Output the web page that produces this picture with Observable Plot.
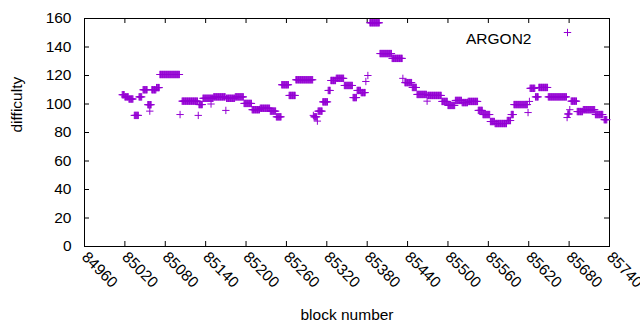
<!DOCTYPE html>
<html>
<head>
<meta charset="utf-8">
<script src="https://cdn.jsdelivr.net/npm/d3@7"></script>
<script src="https://cdn.jsdelivr.net/npm/@observablehq/plot@0.6"></script>
<style>
  html, body { margin: 0; padding: 0; background: #fff; }
  #chart svg { display: block; }
</style>
</head>
<body>
<div id="chart"></div>
<script>
// Runs of blocks sharing the same difficulty (start block, end block, difficulty)
const runStart = [85016, 85020, 85026, 85034, 85041, 85047, 85054, 85057, 85060, 85067, 85072, 85102, 85105, 85129, 85130, 85136, 85148, 85152, 85170, 85171, 85184, 85197, 85209, 85221, 85236, 85245, 85253, 85264, 85274, 85300, 85301, 85306, 85307, 85314, 85322, 85326, 85334, 85346, 85359, 85365, 85371, 85378, 85381, 85384, 85399, 85417, 85433, 85436, 85447, 85454, 85469, 85470, 85491, 85500, 85511, 85521, 85530, 85545, 85546, 85552, 85563, 85570, 85588, 85594, 85598, 85619, 85621, 85622, 85630, 85635, 85649, 85677, 85678, 85681, 85683, 85692, 85701, 85719, 85732];
const runEnd   = [85019, 85025, 85032, 85040, 85045, 85053, 85059, 85057, 85066, 85071, 85101, 85102, 85128, 85129, 85135, 85151, 85148, 85169, 85170, 85183, 85196, 85208, 85220, 85235, 85244, 85252, 85263, 85273, 85299, 85300, 85305, 85306, 85313, 85321, 85325, 85333, 85345, 85358, 85364, 85370, 85377, 85378, 85381, 85398, 85416, 85432, 85433, 85446, 85453, 85468, 85469, 85490, 85499, 85510, 85520, 85529, 85544, 85545, 85551, 85562, 85569, 85587, 85593, 85597, 85618, 85619, 85621, 85629, 85634, 85648, 85676, 85677, 85680, 85681, 85691, 85700, 85718, 85730, 85736];
const runValue = [106.5, 105, 103.5, 92, 105, 110, 99.5, 95, 110, 111.5, 120.7, 92.6, 102, 92, 99.6, 104, 100, 105, 95.5, 104, 105, 100.4, 96, 97, 95, 91, 113.5, 106, 117, 92, 91, 88, 95, 101.5, 109.5, 116.5, 118, 113, 104.5, 109.5, 108, 115.8, 120, 157, 135.4, 132, 118, 115, 111.6, 106.7, 102, 106, 101.8, 99, 102.5, 101, 101.8, 95.5, 95.5, 92.6, 87.7, 86.3, 88.4, 92.6, 99.6, 94, 101.8, 111, 105, 111.6, 105, 90.5, 93, 96, 102, 94.7, 96, 92.6, 89];

const xTicks = [84960, 85020, 85080, 85140, 85200, 85260, 85320, 85380, 85440, 85500, 85560, 85620, 85680, 85740];
const yTicks = [0, 20, 40, 60, 80, 100, 120, 140, 160];
const seriesName = "ARGON2";
const xLabel = "block number";
const yLabel = "difficulty";

const points = [];
runStart.forEach((s, i) => {
  for (let b = s; b <= runEnd[i]; b++) points.push({block: b, difficulty: runValue[i]});
});

const color = "#9400D3";
const font = "Liberation Sans, Arial, sans-serif";
const mTop = 18, mBottom = 84, H = 330;
const plotH = H - mTop - mBottom;
const tickLen = 5;
const fs = 15.5;

const chart = Plot.plot({
  width: 640,
  height: H,
  marginLeft: 84,
  marginRight: 31,
  marginTop: mTop,
  marginBottom: mBottom,
  style: {fontFamily: font, fontSize: fs + "px", color: "#000", background: "#fff"},
  x: {domain: [84960, 85740], label: null},
  y: {domain: [0, 160], label: null},
  marks: [
    Plot.frame({stroke: "#000", strokeWidth: 1}),
    // inward tick marks on all four sides
    Plot.tickX(xTicks, {x: d => d, insetTop: plotH - tickLen, stroke: "#000"}),
    Plot.tickX(xTicks, {x: d => d, insetBottom: plotH - tickLen, stroke: "#000"}),
    Plot.tickY(yTicks, {y: d => d, insetRight: 525 - tickLen, stroke: "#000"}),
    Plot.tickY(yTicks, {y: d => d, insetLeft: 525 - tickLen, stroke: "#000"}),
    Plot.axisX(xTicks, {label: null, tickSize: 0, tickPadding: 8, tickRotate: 45, fontSize: fs, tickFormat: d => String(d)}),
    Plot.axisY(yTicks, {label: null, tickSize: 0, tickPadding: 13, fontSize: fs, tickFormat: d => String(d)}),
    Plot.dot(points, {x: "block", y: "difficulty", symbol: "plus", r: 2.5, stroke: color, strokeWidth: 1}),
    Plot.text([xLabel], {text: d => d, frameAnchor: "bottom", dy: 73, fontSize: fs}),
    Plot.text([yLabel], {text: d => d, frameAnchor: "left", dx: -67, rotate: -90, fontSize: fs}),
    Plot.text([seriesName], {text: d => d, frameAnchor: "top-right", dx: -78, dy: 14, textAnchor: "end", fontSize: fs}),
    Plot.dot([seriesName], {frameAnchor: "top-right", dx: -42, dy: 14, symbol: "plus", r: 2.5, stroke: color, strokeWidth: 1})
  ]
});
document.getElementById("chart").appendChild(chart);
</script>
</body>
</html>
